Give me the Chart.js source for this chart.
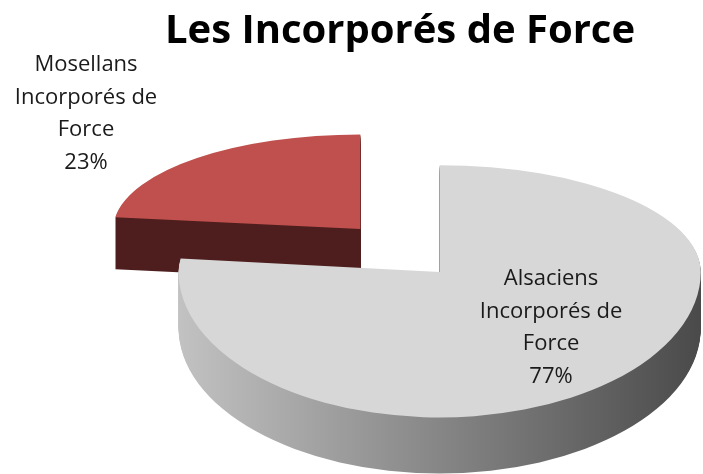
<!DOCTYPE html>
<html lang="fr">
<head>
<meta charset="utf-8">
<title>Les Incorporés de Force</title>
<script src="https://cdn.jsdelivr.net/npm/chart.js@4.4.1/dist/chart.umd.min.js"></script>
<style>
  html, body { margin: 0; padding: 0; background: #fff; }
  #wrap { width: 703px; height: 474px; }
  #chart { display: block; width: 703px; height: 474px; }
</style>
</head>
<body>
<div id="wrap"><canvas id="chart" width="703" height="474"></canvas></div>
<script>
// Data
const chartTitle = "Les Incorporés de Force";
const categories = [
  ["Alsaciens", "Incorporés de", "Force"],
  ["Mosellans", "Incorporés de", "Force"]
];
const values = [77, 23];

// Styles
const topColors = ["#d7d7d7", "#c0504d"];
const sideColors = [["#c2c2c2", "#4a4a4a"], ["#4e1e1e", "#4e1e1e"]];
const labelRadius = [0.645, 1.68];

// Pseudo 3D: tilt the pie, give it some depth, cut it in two halves (back / front)
// so the front half looks bigger, like a perspective view
function drawHalves(chart, s, shift, paint) {
  const ctx = chart.ctx;
  const cut = s.ay + shift;
  [[0, cut, s.back], [cut, chart.height, s.front]].forEach(([y0, y1, ky]) => {
    ctx.save();
    ctx.beginPath();
    ctx.rect(0, y0, chart.width, y1 - y0);
    ctx.clip();
    ctx.setTransform(s.sx, 0, 0, ky, s.ax - s.sx * s.el.x, cut - ky * s.el.y);
    paint(ctx);
    ctx.restore();
  });
}

const pie3d = {
  id: "pie3d",
  beforeDatasetDraw(chart, args, opts) {
    const ctx = chart.ctx;
    const arcs = args.meta.data;
    const R = arcs[0].outerRadius;
    const persp = (Y) => 1 + opts.perspective * Y;

    const slices = arcs.map((el, i) => {
      const mid = (el.startAngle + el.endAngle) / 2;
      const X = Math.cos(mid) * opts.explode;
      const Y = Math.sin(mid) * opts.explode;
      const m = persp(Y);
      return {
        el, i, mid, R,
        ax: el.x + X,
        ay: Math.round(el.y + opts.tilt * Y),
        sx: m,
        back: opts.tilt * m * persp(Y - R),
        front: opts.tilt * m * persp(Y + R),
        depth: Math.round(opts.depth * m)
      };
    });

    // far slices first
    slices.slice().sort((a, b) => a.ay - b.ay).forEach(s => {
      const el = s.el;
      const grad = ctx.createLinearGradient(s.ax - R * s.sx, 0, s.ax + R * s.sx, 0);
      grad.addColorStop(0, sideColors[s.i][0]);
      grad.addColorStop(1, sideColors[s.i][1]);
      for (let d = s.depth; d >= 1; d--) {
        drawHalves(chart, s, d, (c) => {
          c.beginPath();
          c.moveTo(el.x, el.y);
          c.arc(el.x, el.y, el.outerRadius, el.startAngle, el.endAngle);
          c.closePath();
          c.setTransform(1, 0, 0, 1, 0, 0);
          c.fillStyle = grad;
          c.fill();
        });
      }
      drawHalves(chart, s, 0, (c) => el.draw(c));
    });

    chart.$slices = slices;
    return false;
  },
  afterDatasetsDraw(chart) {
    const ctx = chart.ctx;
    const slices = chart.$slices || [];
    const total = values.reduce((a, b) => a + b, 0);
    ctx.save();
    ctx.font = "22px 'Open Sans'";
    ctx.fillStyle = "#1a1a1a";
    ctx.textAlign = "center";
    ctx.textBaseline = "middle";
    const lh = 32.5;
    slices.forEach(s => {
      const rho = labelRadius[s.i] * s.R;
      const x = s.ax + Math.cos(s.mid) * rho * s.sx;
      const y = s.ay + Math.sin(s.mid) * rho * s.back + 4;
      const lines = categories[s.i].concat(Math.round(values[s.i] / total * 100) + "%");
      lines.forEach((t, j) => {
        ctx.fillText(t, x, y + (j - (lines.length - 1) / 2) * lh);
      });
    });
    ctx.restore();
  }
};

Chart.defaults.font.family = "'Open Sans'";

new Chart(document.getElementById("chart"), {
  type: "pie",
  data: {
    labels: categories,
    datasets: [{
      data: values,
      backgroundColor: topColors,
      borderWidth: 0
    }]
  },
  options: {
    responsive: false,
    maintainAspectRatio: false,
    devicePixelRatio: 1,
    animation: false,
    radius: 254,
    layout: { padding: { left: 97, right: 0, top: 0, bottom: 33 } },
    plugins: {
      legend: { display: false },
      tooltip: { enabled: false },
      title: {
        display: true,
        text: chartTitle,
        color: "#000",
        font: { size: 40, weight: "bold" },
        padding: { top: 8, bottom: 4 }
      },
      pie3d: { tilt: 0.47, perspective: 0.00062, explode: 60, depth: 54 }
    }
  },
  plugins: [pie3d]
});
</script>
</body>
</html>
